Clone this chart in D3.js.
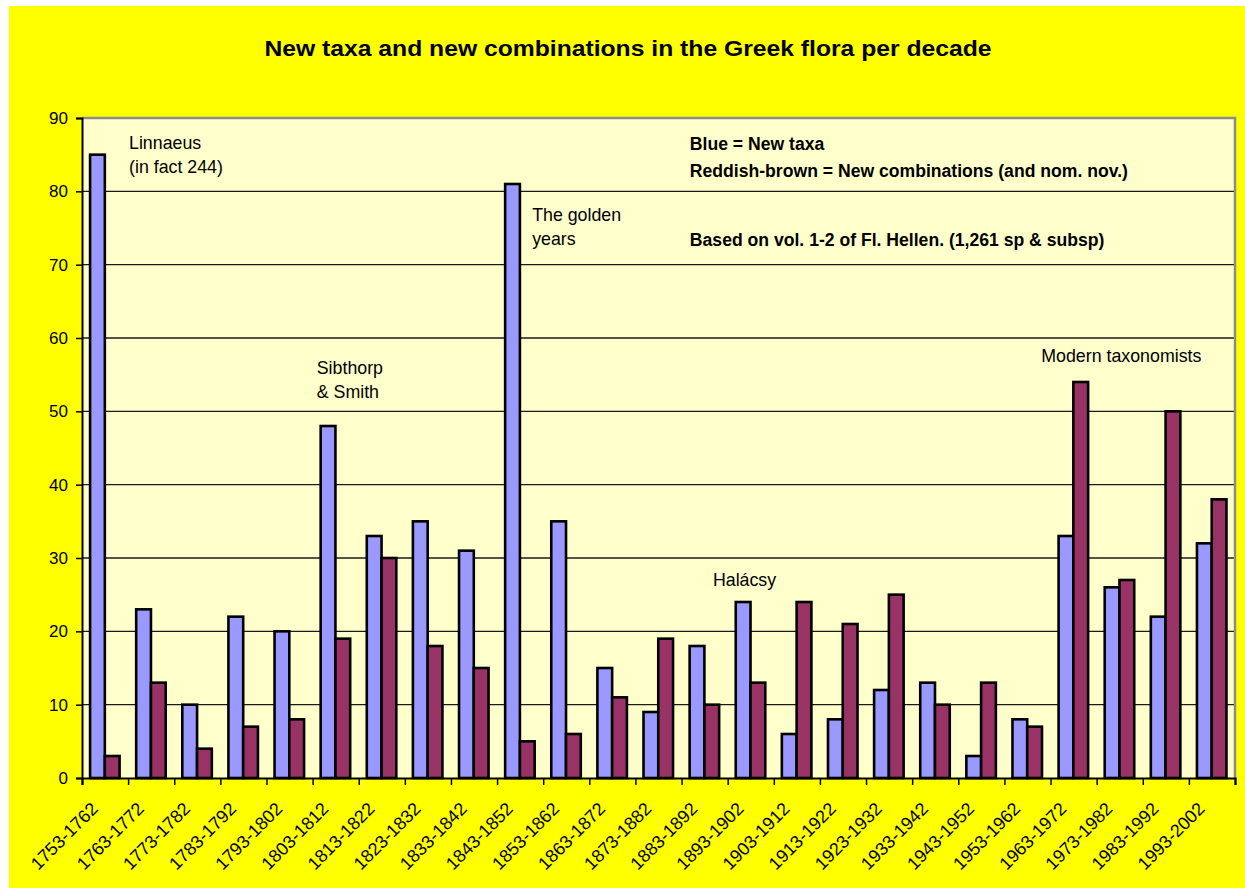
<!DOCTYPE html>
<html>
<head>
<meta charset="utf-8">
<script src="https://cdn.jsdelivr.net/npm/d3@7"></script>
<style>
  html, body { margin: 0; padding: 0; background: #ffffff; }
  svg { display: block; }
  text { font-family: "Liberation Sans", Arial, sans-serif; fill: #000; }
</style>
</head>
<body>
<svg id="chart" width="1245" height="892"></svg>
<script>
// ---- Data ----
const categories = ["1753-1762","1763-1772","1773-1782","1783-1792","1793-1802","1803-1812","1813-1822","1823-1832","1833-1842","1843-1852","1853-1862","1863-1872","1873-1882","1883-1892","1893-1902","1903-1912","1913-1922","1923-1932","1933-1942","1943-1952","1953-1962","1963-1972","1973-1982","1983-1992","1993-2002"];
const newTaxa = [85, 23, 10, 22, 20, 48, 33, 35, 31, 81, 35, 15, 9, 18, 24, 6, 8, 12, 13, 3, 8, 33, 26, 22, 32];
const newCombinations = [3, 13, 4, 7, 8, 19, 30, 18, 15, 5, 6, 11, 19, 10, 13, 24, 21, 25, 10, 13, 7, 54, 27, 50, 38];
const yTicks = [0, 10, 20, 30, 40, 50, 60, 70, 80, 90];
const title = "New taxa and new combinations in the Greek flora per decade";
const legendLines = ["Blue = New taxa", "Reddish-brown = New combinations (and nom. nov.)", "Based on vol. 1-2 of Fl. Hellen. (1,261 sp & subsp)"];

// ---- Layout ----
const W = 1245, H = 892;
const plot = { left: 82, right: 1235, top: 118, bottom: 778 };
const colors = { taxa: "#9999FF", comb: "#993366" };

const svg = d3.select("#chart");

// outer background
svg.append("rect").attr("x", 9).attr("y", 6).attr("width", W - 9).attr("height", H - 10).attr("fill", "#FFFF00");

// plot background
svg.append("rect").attr("x", plot.left).attr("y", plot.top)
  .attr("width", plot.right - plot.left).attr("height", plot.bottom - plot.top)
  .attr("fill", "#FFFFCC");

// scales
const x0 = d3.scaleBand().domain(categories).range([plot.left, plot.right]).paddingInner(0).paddingOuter(0);
const step = x0.step();
const x1 = d3.scaleBand().domain(["taxa", "comb"]).range([step * 0.175, step * 0.815]);
const xIdx = d3.scaleLinear().domain([0, categories.length]).range([plot.left, plot.right]);
const y = d3.scaleLinear().domain([0, 90]).range([plot.bottom, plot.top]);

// gridlines
svg.append("g").selectAll("line").data(yTicks.filter(v => v > 0 && v < 90)).join("line")
  .attr("x1", plot.left).attr("x2", plot.right)
  .attr("y1", d => y(d)).attr("y2", d => y(d))
  .attr("stroke", "#1a1a1a").attr("stroke-width", 1.3);

// plot border top/right (gray)
svg.append("path")
  .attr("d", `M${plot.left},${y(90)}H${plot.right}V${plot.bottom}`)
  .attr("fill", "none").attr("stroke", "#8c8c8c").attr("stroke-width", 2.5);

// bars
const rows = categories.map((c, i) => ({ cat: c, taxa: newTaxa[i], comb: newCombinations[i] }));
const groups = svg.append("g").selectAll("g").data(rows).join("g")
  .attr("transform", d => `translate(${x0(d.cat)},0)`);
groups.selectAll("rect").data(d => [{ k: "taxa", v: d.taxa }, { k: "comb", v: d.comb }]).join("rect")
  .attr("x", d => x1(d.k))
  .attr("width", x1.bandwidth())
  .attr("y", d => y(d.v))
  .attr("height", d => y(0) - y(d.v))
  .attr("fill", d => colors[d.k])
  .attr("stroke", "#000").attr("stroke-width", 2.6);

// y axis
const yAxis = svg.append("g").attr("transform", `translate(${plot.left},0)`)
  .call(d3.axisLeft(y).tickValues(yTicks).tickSize(6).tickPadding(8).tickFormat(d3.format("d")));
yAxis.select(".domain").attr("stroke", "#000").attr("stroke-width", 2);
yAxis.selectAll(".tick line").attr("stroke", "#000").attr("stroke-width", 1.5);
yAxis.selectAll(".tick text").attr("font-size", 17).attr("font-family", "Liberation Sans, Arial, sans-serif").attr("fill", "#000");

// x axis (ticks at category boundaries)
const xAxis = svg.append("g").attr("transform", `translate(0,${plot.bottom})`)
  .call(d3.axisBottom(xIdx).tickValues(d3.range(categories.length + 1)).tickSize(7).tickFormat(""));
xAxis.select(".domain").attr("stroke", "#000").attr("stroke-width", 2.2);
xAxis.selectAll(".tick line").attr("stroke", "#000").attr("stroke-width", 1.5);

// x labels rotated
svg.append("g").selectAll("text").data(categories).join("text")
  .attr("transform", d => `translate(${x0(d) + step / 2 - 6},${plot.bottom + 32}) rotate(-45)`)
  .attr("text-anchor", "end")
  .attr("font-size", 18)
  .text(d => d);

// title
svg.append("text").attr("x", 628).attr("y", 56).attr("text-anchor", "middle")
  .attr("font-size", 22).attr("font-weight", "bold")
  .attr("textLength", 727).attr("lengthAdjust", "spacingAndGlyphs").text(title);

// legend notes
const legendY = [y(85.6), y(81.9), y(72.6)];
svg.append("g").selectAll("text").data(legendLines).join("text")
  .attr("x", xIdx(13.18)).attr("y", (d, i) => legendY[i])
  .attr("font-size", 17.6).attr("font-weight", "bold").text(d => d);

// annotations
const ann = (lines, xi, yv) => {
  lines.forEach((t, i) => {
    svg.append("text").attr("x", xIdx(xi)).attr("y", y(yv) + i * 24)
      .attr("font-size", 17.8).attr("fill", "#111").text(t);
  });
};
ann(["Linnaeus", "(in fact 244)"], 1.02, 85.8);
ann(["Sibthorp", "& Smith"], 5.09, 55.1);
ann(["The golden", "years"], 9.76, 76.0);
ann(["Halácsy"], 13.68, 26.2);
ann(["Modern taxonomists"], 20.8, 56.7);
</script>
</body>
</html>
